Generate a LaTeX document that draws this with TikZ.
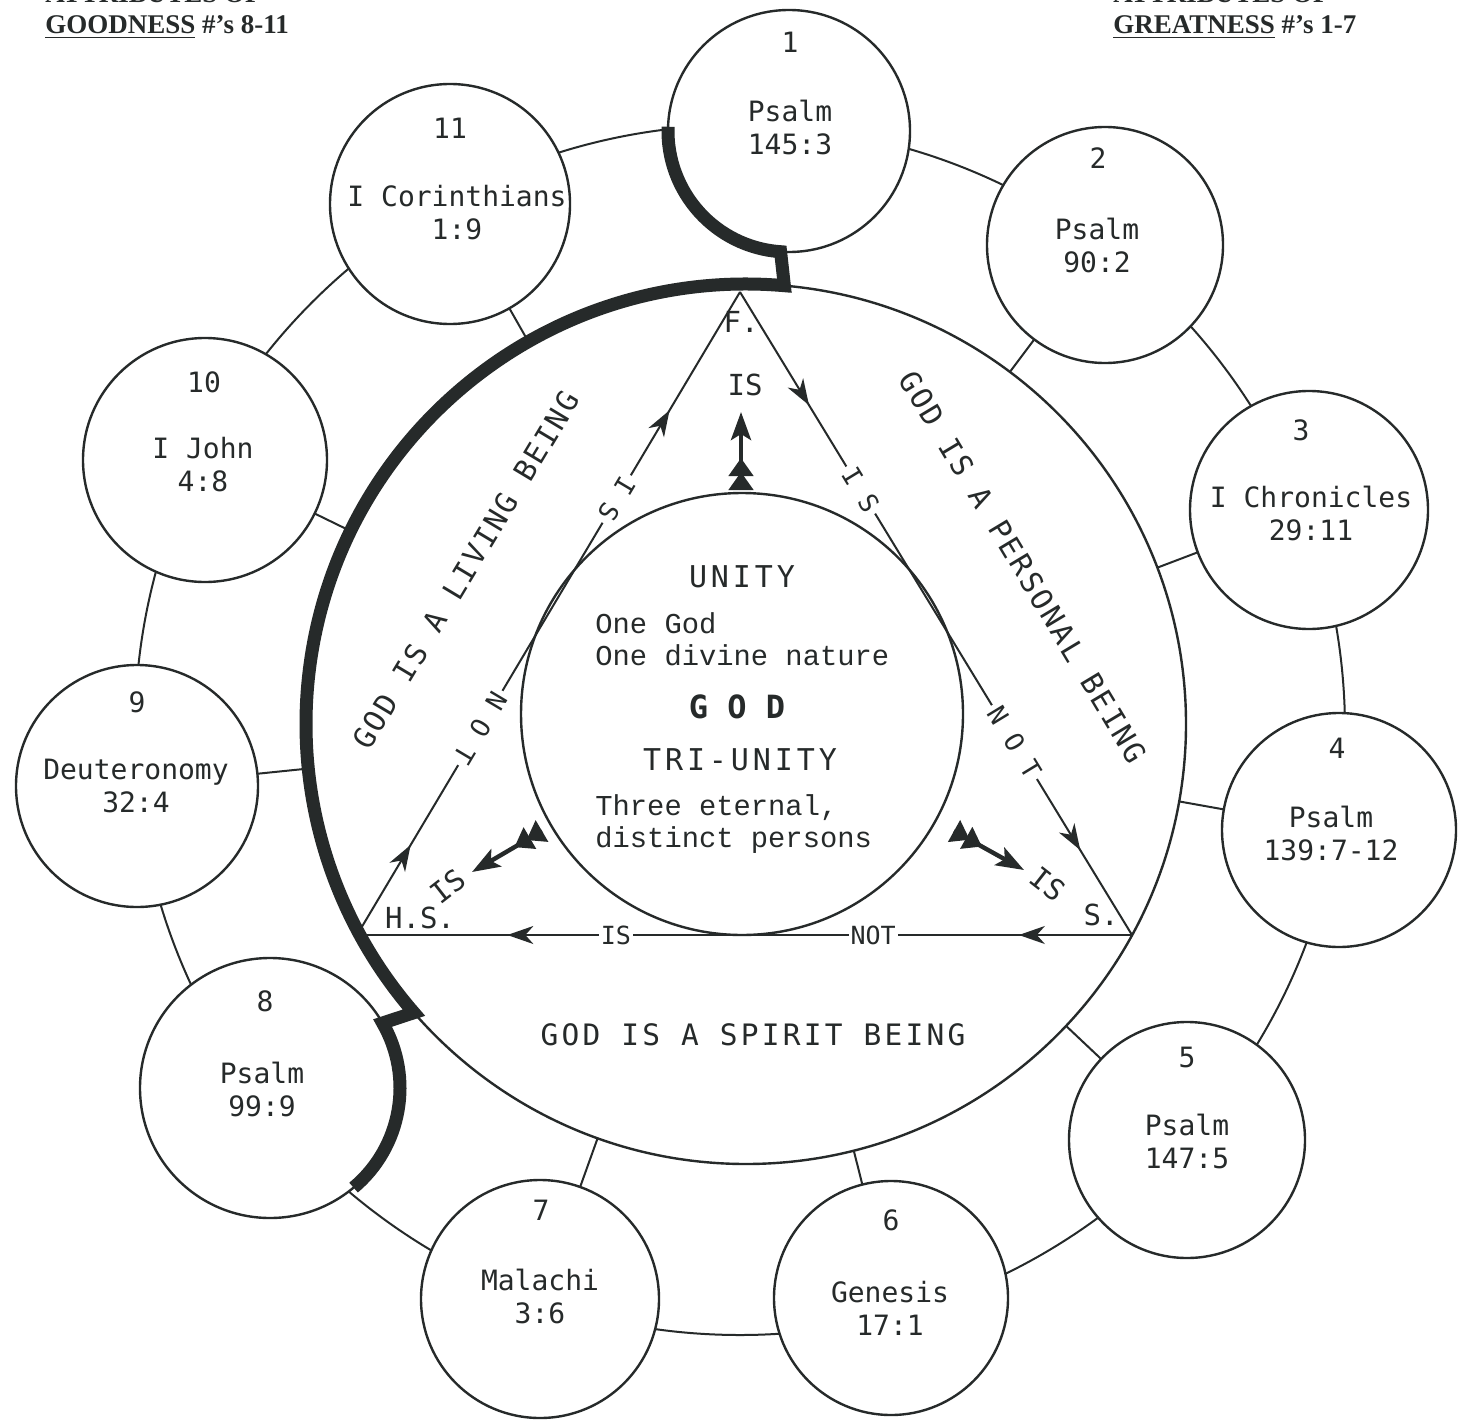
\documentclass[tikz,border=0pt]{standalone}
\usepackage{fontspec}
\setmainfont{Liberation Serif}
\newfontfamily\typefont{DejaVu Sans Mono}
\newfontfamily\courfont{Liberation Mono}
\usetikzlibrary{arrows.meta,decorations.markings}
\definecolor{ink}{RGB}{38,42,42}

\tikzset{
  thin/.style={draw=ink, line width=1pt},
  bib/.style={circle, draw=ink, line width=1.2pt, fill=white, inner sep=0pt, outer sep=0pt, minimum size=118pt},
  ref/.style={font=\typefont\fontsize{14}{16.5}\selectfont, text=ink, align=center, inner sep=0pt},
  num/.style={font=\typefont\fontsize{14}{16.5}\selectfont, text=ink, inner sep=0pt},
  heavy/.style={draw=ink, line width=6.5pt},
  bigcap/.style={font=\typefont\fontsize{15}{18}\selectfont\addfontfeature{LetterSpace=13}, text=ink, inner sep=0pt},
  beinglbl/.style={font=\typefont\fontsize{14.75}{18}\selectfont\addfontfeature{LetterSpace=8}, text=ink, inner sep=0pt},
  courtext/.style={font=\courfont\fontsize{14.4}{16}\selectfont, text=ink, align=left, inner sep=0pt},
  vertex/.style={font=\typefont\fontsize{14.5}{17}\selectfont, text=ink, inner sep=0pt},
  sidelbl/.style={font=\typefont\fontsize{13}{15}\selectfont, text=ink, fill=white, inner sep=2pt},
  baselbl/.style={font=\typefont\fontsize{12.5}{15}\selectfont, text=ink, fill=white, inner sep=1pt},
  head/.style={font=\bfseries\fontsize{13.5}{16}\selectfont, text=ink, inner sep=0pt, anchor=base west},
  fletch/.style={draw=ink, line width=2.2pt, -{Stealth[length=14pt,width=10pt,inset=3pt]},
    postaction={decorate}, decoration={markings,
      mark=at position 9pt with {\arrow{Triangle[length=9pt,width=12pt]}},
      mark=at position 16pt with {\arrow{Triangle[length=9pt,width=12pt]}}}},
  side/.style={draw=ink, line width=1pt, postaction={decorate}}
}

\begin{document}
\begin{tikzpicture}[x=0.5pt, y=0.5pt]
\useasboundingbox (0,0) rectangle (1466,-1423);

% headings
\node[head] (atl) at (45,-3) {ATTRIBUTES  OF};
\node[head] (gdl) at (45,-34) {\underline{GOODNESS}  \#’s 8-11};
\node[head] (atr) at (1113,-3) {ATTRIBUTES OF};
\node[head] (grr) at (1113,-34) {\underline{GREATNESS}  \#’s 1-7};

% outer ring
\draw[thin] (740,-730) circle[radius=605];

% big circle and the eleven references
\node[bib, minimum size=440pt] (big) at (746,-724) {};
\node[bib, minimum size=121pt] (c1) at (789,-131) {};
\node[bib] (c2) at (1105,-245) {};
\node[bib, minimum size=119pt] (c3) at (1309,-510) {};
\node[bib, minimum size=117pt] (c4) at (1339,-830) {};
\node[bib] (c5) at (1187,-1140) {};
\node[bib, minimum size=117pt] (c6) at (891,-1298) {};
\node[bib, minimum size=119pt] (c7) at (540,-1299) {};
\node[bib, minimum size=130pt] (c8) at (270,-1088) {};
\node[bib, minimum size=121pt] (c9) at (137,-786) {};
\node[bib, minimum size=122pt] (c10) at (205,-460) {};
\node[bib, minimum size=120pt] (c11) at (450,-204) {};

% spokes
\draw[thin] (big) -- (c2);
\draw[thin] (big) -- (c3);
\draw[thin] (big) -- (c4);
\draw[thin] (big) -- (c5);
\draw[thin] (big) -- (c6);
\draw[thin] (big) -- (c7);
\draw[thin] (big) -- (c9);
\draw[thin] (big) -- (c10);
\draw[thin] (big) -- (c11);

% heavy boundary
\draw[heavy] (c1.178) arc[start angle=178, end angle=266, radius=121]
  -- (big.85) arc[start angle=85, end angle=221, radius=440]
  -- (c8.30) arc[start angle=30, end angle=-50, radius=130];

% numbers and texts
\node[num] (n1) at (790,-42) {1};
\node[ref] (t1) at (790,-127) {Psalm\\145:3};
\node[num] (n2) at (1098,-158) {2};
\node[ref] (t2) at (1097,-245) {Psalm\\90:2};
\node[num] (n3) at (1301,-430) {3};
\node[ref] (t3) at (1311,-513) {I Chronicles\\29:11};
\node[num] (n4) at (1337,-748) {4};
\node[ref] (t4) at (1331,-833) {Psalm\\139:7-12};
\node[num] (n5) at (1187,-1057) {5};
\node[ref] (t5) at (1187,-1141) {Psalm\\147:5};
\node[num] (n6) at (891,-1220) {6};
\node[ref] (t6) at (890,-1308) {Genesis\\17:1};
\node[num] (n7) at (541,-1210) {7};
\node[ref] (t7) at (540,-1296) {Malachi\\3:6};
\node[num] (n8) at (265,-1001) {8};
\node[ref] (t8) at (262,-1089) {Psalm\\99:9};
\node[num] (n9) at (137,-702) {9};
\node[ref] (t9) at (136,-786) {Deuteronomy\\32:4};
\node[num] (n10) at (204,-382) {10};
\node[ref] (t10) at (203,-465) {I John\\4:8};
\node[num] (n11) at (450,-128) {11};
\node[ref] (t11) at (457,-213) {I Corinthians\\1:9};

% triangle
\coordinate (vf) at (740,-292);
\coordinate (vh) at (357,-935);
\coordinate (vs) at (1132,-935);
\draw[side, decoration={markings,
    mark=at position 0.184 with {\arrowreversed{Stealth[length=13pt,width=9pt,inset=4pt]}},
    mark=at position 0.86 with {\arrowreversed{Stealth[length=13pt,width=9pt,inset=4pt]}}}]
  (vf) -- node[sidelbl, sloped, allow upside down, pos=0.322] (lis) {I S}
          node[sidelbl, sloped, allow upside down, pos=0.678] (lnot) {N O T} (vh);
\draw[side, decoration={markings,
    mark=at position 0.176 with {\arrow{Stealth[length=13pt,width=9pt,inset=4pt]}},
    mark=at position 0.868 with {\arrow{Stealth[length=13pt,width=9pt,inset=4pt]}}}]
  (vf) -- node[sidelbl, sloped, pos=0.308] (ris) {I S}
          node[sidelbl, sloped, pos=0.70] (rnot) {N O T} (vs);
\draw[side, decoration={markings,
    mark=at position 0.146 with {\arrow{Stealth[length=13pt,width=9pt,inset=4pt]}},
    mark=at position 0.806 with {\arrow{Stealth[length=13pt,width=9pt,inset=4pt]}}}]
  (vs) -- node[baselbl, pos=0.334] (bnot) {NOT}
          node[baselbl, pos=0.666] (bis) {IS} (vh);

% unity circle
\node[circle, draw=ink, line width=1.2pt, inner sep=0pt, minimum size=221pt] (unity) at (742,-714) {};

% vertices
\node[vertex] (f) at (741,-322) {F.};
\node[vertex] (hs) at (420,-918) {H.S.};
\node[vertex] (s) at (1101,-915) {S.};

% fletched arrows
\coordinate (ft1) at (741,-490);
\coordinate (fh1) at (741,-412);
\coordinate (ft2) at (542,-831);
\coordinate (fh2) at (472,-872);
\coordinate (ft3) at (954,-831);
\coordinate (fh3) at (1024,-870);
\draw[fletch] (ft1) -- (fh1);
\draw[fletch] (ft2) -- (fh2);
\draw[fletch] (ft3) -- (fh3);
\node[vertex] (is1) at (745,-385) {IS};
\node[vertex, rotate=38] (is2) at (448,-886) {IS};
\node[vertex, rotate=-38] (is3) at (1048,-884) {IS};

% centre
\node[bigcap] (unitylbl) at (742,-577) {UNITY};
\node[courtext, anchor=west] (onegod) at (595,-639) {One God\\One divine nature};
\node[font=\typefont\bfseries\fontsize{16}{18}\selectfont, text=ink, inner sep=0pt] (godlbl) at (737,-707) {G O D};
\node[bigcap] (trilbl) at (740,-760) {TRI-UNITY};
\node[courtext, anchor=west] (persons) at (595,-824) {Three eternal,\\distinct persons};

% being labels
\node[beinglbl, rotate=59] (living) at (466,-570) {GOD IS A LIVING BEING};
\node[beinglbl, rotate=-59] (personal) at (1023,-567) {GOD IS A PERSONAL BEING};
\node[beinglbl, font=\typefont\fontsize{14.75}{18}\selectfont\addfontfeature{LetterSpace=11}] (spirit) at (753,-1035) {GOD IS A SPIRIT BEING};
\end{tikzpicture}
\end{document}
